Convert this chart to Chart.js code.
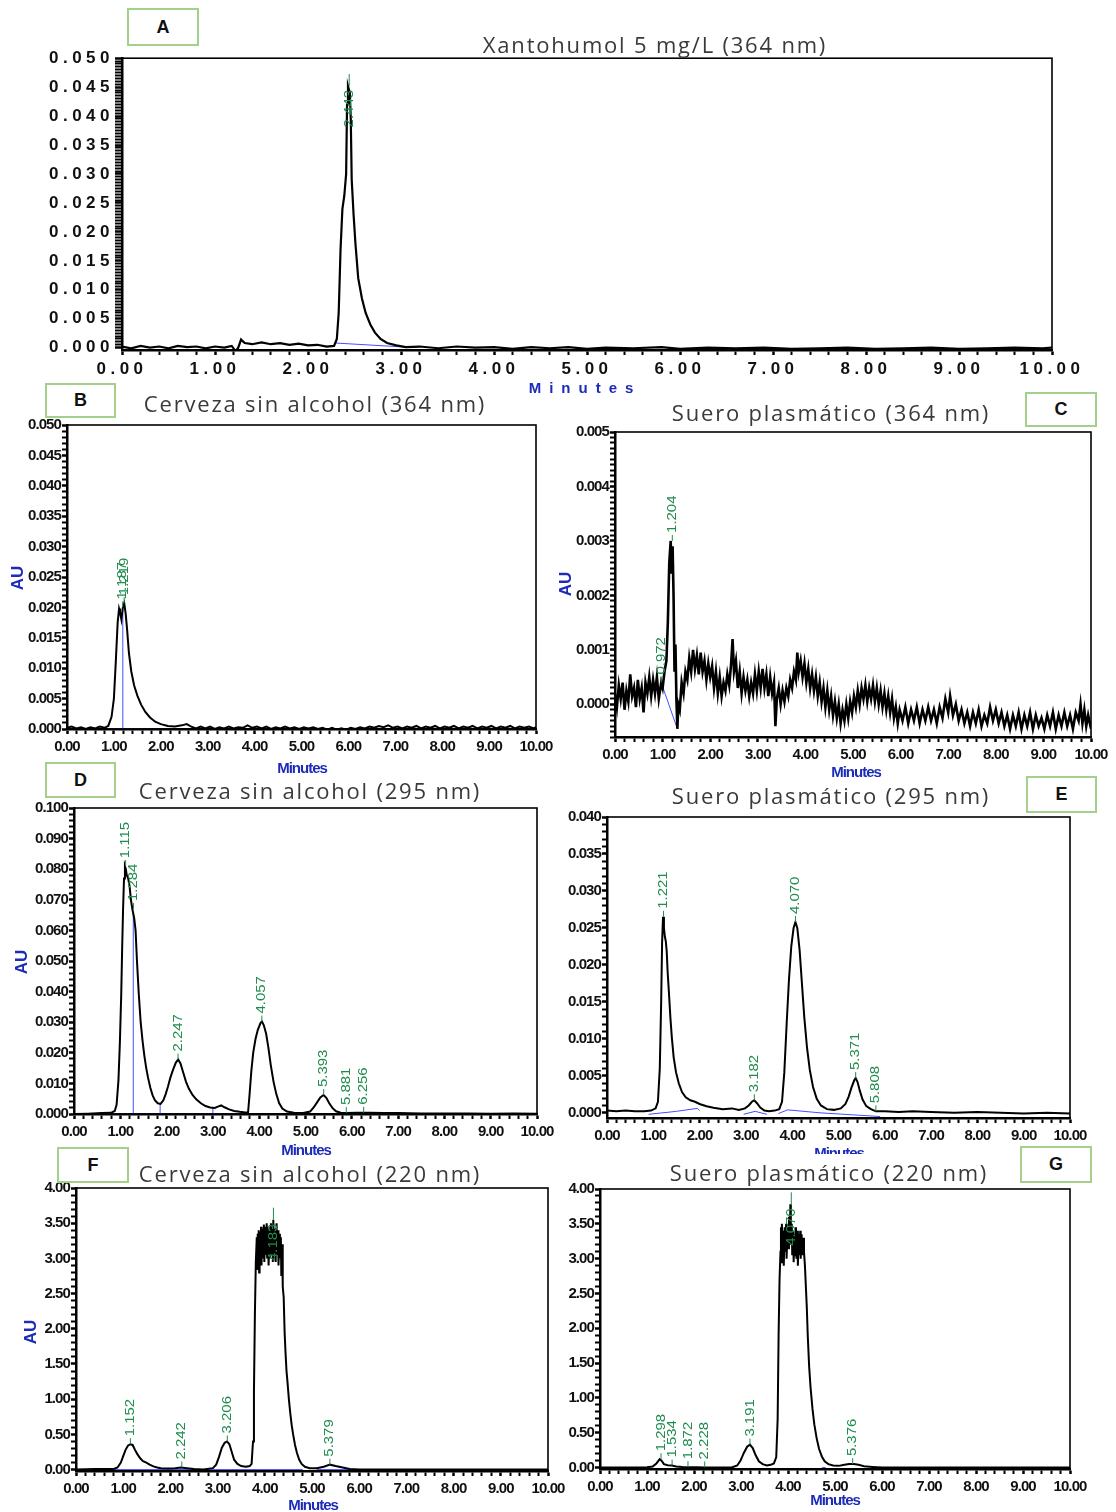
<!DOCTYPE html>
<html>
<head>
<meta charset="utf-8">
<script src="https://cdn.jsdelivr.net/npm/chart.js@4.4.0/dist/chart.umd.min.js"></script>
<style>
  html, body { margin: 0; padding: 0; background: #fff; }
  body { width: 1116px; height: 1512px; position: relative; overflow: hidden; }
  canvas { position: absolute; }
  .title { position: absolute; width: 440px; text-align: center; font-family: "Open Sans", sans-serif; font-size: 22px; letter-spacing: 1.8px; color: #3a3a3a; line-height: 28px; white-space: nowrap; }
  .tag { position: absolute; box-sizing: border-box; border: 2px solid #a3d08a; background: #fff; font: bold 18px "Liberation Sans", Arial, sans-serif; color: #111; text-align: center; }
  .mins { position: absolute; width: 140px; text-align: center; font: bold 15px "Liberation Sans", Arial, sans-serif; color: #1c2bb8; letter-spacing: -1px; line-height: 18px; white-space: nowrap; }
  .au { position: absolute; width: 30px; text-align: center; font: bold 17px "Liberation Sans", Arial, sans-serif; color: #1c2bb8; transform: rotate(-90deg); line-height: 18px; }
</style>
</head>
<body>
<script>
// ---- data (minutes, AU) ----

const traceA = [[0.00,0.0002],[0.10,-0.0001],[0.20,0.0003],[0.30,0.0000],[0.40,0.0002],[0.50,-0.0001],[0.60,0.0003],[0.70,0.0001],[0.80,0.0002],[0.90,-0.0001],[1.00,0.0002],[1.10,0.0000],[1.18,0.0003],[1.22,-0.0006],[1.25,0.0000],[1.28,0.0014],[1.32,0.0008],[1.40,0.0006],[1.50,0.0009],[1.60,0.0006],[1.70,0.0008],[1.80,0.0005],[1.90,0.0007],[2.00,0.0004],[2.10,0.0005],[2.20,0.0002],[2.28,0.0003],[2.31,0.0015],[2.33,0.0060],[2.35,0.0170],[2.37,0.0240],[2.39,0.0262],[2.41,0.0300],[2.42,0.0420],[2.43,0.0452],[2.45,0.0440],[2.46,0.0395],[2.47,0.0290],[2.49,0.0230],[2.51,0.0180],[2.54,0.0120],[2.58,0.0085],[2.62,0.0060],[2.67,0.0040],[2.72,0.0026],[2.78,0.0015],[2.85,0.0008],[2.95,0.0004],[3.05,0.0001],[3.20,0.0002],[3.40,-0.0001],[3.60,0.0002],[3.80,0.0000],[4.00,0.0001],[4.20,-0.0002],[4.40,0.0001],[4.60,-0.0001],[4.80,0.0001],[5.00,-0.0002],[5.20,0.0000],[5.50,-0.0001],[5.80,0.0001],[6.00,-0.0002],[6.30,0.0000],[6.60,-0.0001],[6.90,0.0000],[7.20,-0.0002],[7.50,-0.0001],[7.80,0.0000],[8.10,-0.0002],[8.40,-0.0001],[8.70,0.0000],[9.00,-0.0002],[9.30,-0.0001],[9.60,0.0000],[9.90,-0.0001],[10.00,0.0000]];
const peakTimesA = [2.443];
const peakHeightsA = [0.0452];
const baseA = [[[2.30,0.0008],[3.05,0.0001]]];

const traceB = [[0.00,0.0002],[0.10,0.0004],[0.20,0.0001],[0.30,0.0003],[0.40,0.0000],[0.50,0.0003],[0.60,0.0001],[0.70,0.0004],[0.80,0.0002],[0.88,0.0005],[0.95,0.0020],[1.00,0.0050],[1.04,0.0110],[1.08,0.0175],[1.11,0.0198],[1.13,0.0192],[1.16,0.0180],[1.19,0.0200],[1.22,0.0207],[1.25,0.0190],[1.28,0.0165],[1.32,0.0125],[1.37,0.0095],[1.43,0.0072],[1.50,0.0055],[1.58,0.0040],[1.67,0.0028],[1.77,0.0019],[1.88,0.0012],[2.00,0.0008],[2.15,0.0005],[2.30,0.0004],[2.45,0.0006],[2.55,0.0008],[2.65,0.0004],[2.75,0.0001],[2.85,0.0004],[2.95,0.0001],[3.05,0.0004],[3.15,0.0000],[3.25,0.0003],[3.35,0.0001],[3.45,0.0004],[3.55,0.0001],[3.65,0.0003],[3.75,0.0002],[3.85,0.0006],[3.95,0.0002],[4.05,0.0004],[4.15,0.0001],[4.25,0.0004],[4.35,0.0000],[4.45,0.0003],[4.55,0.0001],[4.65,0.0004],[4.75,0.0001],[4.85,0.0003],[4.95,0.0000],[5.05,0.0003],[5.15,0.0001],[5.25,0.0003],[5.35,0.0000],[5.45,0.0002],[5.55,-0.0001],[5.65,0.0002],[5.75,-0.0001],[5.85,0.0001],[5.95,-0.0001],[6.05,0.0002],[6.15,0.0000],[6.25,0.0003],[6.35,0.0001],[6.45,0.0004],[6.55,0.0002],[6.65,0.0005],[6.75,0.0003],[6.85,0.0006],[6.95,0.0002],[7.05,0.0004],[7.15,0.0001],[7.25,0.0004],[7.35,0.0002],[7.45,0.0005],[7.55,0.0001],[7.65,0.0004],[7.75,0.0002],[7.85,0.0005],[7.95,0.0001],[8.05,0.0004],[8.15,0.0002],[8.25,0.0005],[8.35,0.0001],[8.45,0.0004],[8.55,0.0002],[8.65,0.0005],[8.75,0.0001],[8.85,0.0004],[8.95,0.0002],[9.05,0.0005],[9.15,0.0001],[9.25,0.0004],[9.35,0.0002],[9.45,0.0005],[9.55,0.0001],[9.65,0.0004],[9.75,0.0002],[9.85,0.0004],[9.95,0.0001],[10.00,0.0003]];
const peakTimesB = [1.187, 1.219];
const peakHeightsB = [0.0200, 0.0207];
const baseB = [[[0.85,0.0000],[2.25,0.0000]], [[1.19,0.0000],[1.19,0.0200]]];

const traceC = [[0.00,0.00020],[0.04,-0.00005],[0.08,0.00035],[0.12,0.00010],[0.16,0.00040],[0.20,-0.00010],[0.24,0.00025],[0.28,0.00005],[0.32,0.00055],[0.36,0.00015],[0.40,0.00030],[0.44,-0.00005],[0.48,0.00045],[0.52,0.00010],[0.56,0.00030],[0.60,-0.00015],[0.64,0.00040],[0.68,0.00020],[0.72,0.00050],[0.76,0.00015],[0.80,0.00045],[0.84,0.00020],[0.88,0.00050],[0.92,0.00010],[0.97,0.00040],[1.00,0.00030],[1.04,0.00060],[1.08,0.00080],[1.11,0.00150],[1.14,0.00260],[1.17,0.00300],[1.19,0.00240],[1.21,0.00290],[1.23,0.00200],[1.25,0.00060],[1.27,0.00110],[1.29,0.00010],[1.31,-0.00045],[1.33,0.00000],[1.36,-0.00010],[1.40,0.00040],[1.44,0.00020],[1.48,0.00060],[1.52,0.00045],[1.56,0.00085],[1.60,0.00060],[1.64,0.00100],[1.68,0.00065],[1.72,0.00090],[1.76,0.00055],[1.80,0.00095],[1.84,0.00060],[1.88,0.00080],[1.92,0.00045],[1.96,0.00075],[2.00,0.00050],[2.04,0.00070],[2.08,0.00030],[2.12,0.00060],[2.16,0.00020],[2.20,0.00050],[2.24,0.00015],[2.28,0.00040],[2.32,0.00025],[2.36,0.00055],[2.40,0.00035],[2.44,0.00075],[2.47,0.00120],[2.50,0.00060],[2.54,0.00080],[2.58,0.00030],[2.62,0.00060],[2.66,0.00020],[2.70,0.00050],[2.74,0.00025],[2.78,0.00045],[2.82,0.00015],[2.86,0.00040],[2.90,0.00020],[2.94,0.00055],[2.98,0.00025],[3.02,0.00060],[3.06,0.00030],[3.10,0.00065],[3.14,0.00030],[3.18,0.00055],[3.22,0.00015],[3.26,0.00050],[3.30,0.00020],[3.34,0.00040],[3.37,-0.00040],[3.40,0.00010],[3.44,0.00030],[3.48,0.00000],[3.52,0.00025],[3.56,0.00005],[3.60,0.00030],[3.64,0.00015],[3.68,0.00045],[3.72,0.00030],[3.76,0.00060],[3.80,0.00045],[3.83,0.00095],[3.86,0.00060],[3.90,0.00080],[3.94,0.00050],[3.98,0.00075],[4.02,0.00040],[4.06,0.00065],[4.10,0.00030],[4.14,0.00055],[4.18,0.00025],[4.22,0.00050],[4.26,0.00015],[4.30,0.00040],[4.34,0.00005],[4.38,0.00030],[4.42,-0.00005],[4.46,0.00025],[4.50,-0.00010],[4.54,0.00015],[4.58,-0.00020],[4.62,0.00005],[4.66,-0.00025],[4.70,0.00000],[4.74,-0.00035],[4.78,-0.00010],[4.82,-0.00030],[4.86,0.00000],[4.90,-0.00025],[4.94,0.00005],[4.98,-0.00015],[5.02,0.00015],[5.06,-0.00005],[5.10,0.00025],[5.14,0.00000],[5.18,0.00030],[5.22,0.00010],[5.26,0.00035],[5.30,0.00005],[5.34,0.00030],[5.38,0.00010],[5.42,0.00035],[5.46,0.00005],[5.50,0.00030],[5.54,0.00000],[5.58,0.00025],[5.62,-0.00005],[5.66,0.00020],[5.70,-0.00010],[5.74,0.00015],[5.78,-0.00015],[5.82,0.00010],[5.86,-0.00025],[5.90,-0.00005],[5.94,-0.00035],[5.98,-0.00010],[6.04,-0.00030],[6.10,-0.00005],[6.16,-0.00035],[6.22,-0.00010],[6.28,-0.00030],[6.34,-0.00005],[6.40,-0.00035],[6.46,-0.00010],[6.52,-0.00030],[6.58,-0.00005],[6.64,-0.00030],[6.70,-0.00010],[6.76,-0.00035],[6.82,-0.00005],[6.88,-0.00025],[6.94,0.00010],[7.00,-0.00015],[7.04,0.00015],[7.10,-0.00020],[7.16,0.00000],[7.22,-0.00030],[7.28,-0.00010],[7.34,-0.00035],[7.40,-0.00015],[7.46,-0.00040],[7.52,-0.00015],[7.58,-0.00035],[7.64,-0.00010],[7.70,-0.00040],[7.76,-0.00020],[7.82,-0.00035],[7.88,-0.00005],[7.94,-0.00030],[8.00,-0.00010],[8.06,-0.00035],[8.12,-0.00015],[8.18,-0.00040],[8.24,-0.00020],[8.30,-0.00045],[8.36,-0.00020],[8.42,-0.00040],[8.48,-0.00015],[8.54,-0.00045],[8.60,-0.00020],[8.66,-0.00040],[8.72,-0.00015],[8.78,-0.00045],[8.84,-0.00020],[8.90,-0.00040],[8.96,-0.00025],[9.02,-0.00045],[9.08,-0.00020],[9.14,-0.00040],[9.20,-0.00015],[9.26,-0.00045],[9.32,-0.00020],[9.38,-0.00040],[9.44,-0.00015],[9.50,-0.00040],[9.56,-0.00020],[9.62,-0.00045],[9.68,-0.00015],[9.74,-0.00030],[9.78,0.00000],[9.82,-0.00035],[9.86,-0.00010],[9.90,-0.00040],[9.94,-0.00020],[10.00,-0.00045]];
const peakTimesC = [0.972, 1.204];
const peakHeightsC = [0.0004, 0.0030];
const baseC = [[[0.97,0.0004],[1.31,-0.00045]]];

const traceD = [[0.00,0.0000],[0.30,0.0001],[0.60,0.0003],[0.80,0.0004],[0.88,0.0010],[0.92,0.0030],[0.96,0.0110],[0.99,0.0230],[1.02,0.0390],[1.04,0.0540],[1.06,0.0670],[1.08,0.0770],[1.10,0.0810],[1.12,0.0800],[1.14,0.0780],[1.17,0.0770],[1.20,0.0745],[1.23,0.0700],[1.26,0.0670],[1.30,0.0640],[1.33,0.0600],[1.36,0.0500],[1.40,0.0390],[1.44,0.0300],[1.48,0.0240],[1.52,0.0190],[1.56,0.0150],[1.60,0.0118],[1.65,0.0085],[1.70,0.0060],[1.75,0.0044],[1.81,0.0035],[1.87,0.0033],[1.93,0.0045],[1.98,0.0065],[2.03,0.0090],[2.08,0.0118],[2.14,0.0145],[2.20,0.0168],[2.25,0.0178],[2.30,0.0165],[2.36,0.0135],[2.42,0.0105],[2.48,0.0083],[2.56,0.0062],[2.64,0.0048],[2.74,0.0035],[2.84,0.0026],[2.94,0.0021],[3.04,0.0020],[3.12,0.0025],[3.18,0.0028],[3.25,0.0022],[3.35,0.0015],[3.46,0.0010],[3.58,0.0007],[3.70,0.0005],[3.76,0.0006],[3.79,0.0060],[3.83,0.0140],[3.87,0.0200],[3.92,0.0245],[3.97,0.0275],[4.03,0.0298],[4.06,0.0302],[4.10,0.0290],[4.15,0.0262],[4.20,0.0215],[4.25,0.0160],[4.31,0.0105],[4.37,0.0065],[4.43,0.0036],[4.50,0.0018],[4.60,0.0008],[4.75,0.0004],[4.95,0.0003],[5.10,0.0008],[5.18,0.0022],[5.25,0.0038],[5.32,0.0054],[5.39,0.0062],[5.45,0.0053],[5.51,0.0036],[5.58,0.0020],[5.66,0.0009],[5.76,0.0004],[5.88,0.0003],[6.10,0.0004],[6.40,0.0004],[6.70,0.0003],[7.00,0.0003],[7.50,0.0002],[8.00,0.0002],[8.50,0.0002],[9.00,0.0001],[9.50,0.0002],[10.00,0.0001]];
const peakTimesD = [1.115, 1.284, 2.247, 4.057, 5.393, 5.881, 6.256];
const peakHeightsD = [0.0810, 0.0670, 0.0178, 0.0302, 0.0062, 0.0003, 0.0004];
const baseD = [[[0.60,0.0000],[3.75,0.0000]], [[1.28,0.0000],[1.28,0.0660]], [[1.86,0.0000],[1.86,0.0033]], [[3.00,0.0000],[3.00,0.0020]], [[6.10,0.0003],[6.50,0.0003]]];

const traceE = [[0.00,0.0003],[0.20,0.0002],[0.40,0.0003],[0.60,0.0002],[0.80,0.0002],[0.95,0.0003],[1.05,0.0006],[1.10,0.0015],[1.14,0.0060],[1.17,0.0150],[1.19,0.0230],[1.21,0.0265],[1.23,0.0250],[1.25,0.0238],[1.27,0.0232],[1.29,0.0218],[1.31,0.0190],[1.34,0.0160],[1.37,0.0128],[1.40,0.0102],[1.44,0.0075],[1.49,0.0055],[1.55,0.0040],[1.62,0.0028],[1.70,0.0021],[1.80,0.0017],[1.90,0.0015],[2.00,0.0012],[2.15,0.0009],[2.30,0.0007],[2.50,0.0005],[2.70,0.0006],[2.85,0.0004],[2.98,0.0006],[3.06,0.0010],[3.13,0.0015],[3.18,0.0017],[3.24,0.0013],[3.31,0.0007],[3.40,0.0003],[3.50,0.0002],[3.62,0.0003],[3.72,0.0005],[3.78,0.0015],[3.83,0.0055],[3.88,0.0120],[3.93,0.0180],[3.98,0.0225],[4.03,0.0250],[4.07,0.0258],[4.11,0.0250],[4.16,0.0220],[4.21,0.0175],[4.26,0.0130],[4.32,0.0088],[4.38,0.0058],[4.45,0.0035],[4.53,0.0019],[4.62,0.0010],[4.75,0.0005],[4.90,0.0004],[5.05,0.0006],[5.15,0.0012],[5.22,0.0022],[5.28,0.0034],[5.34,0.0044],[5.37,0.0047],[5.41,0.0042],[5.46,0.0030],[5.52,0.0018],[5.60,0.0009],[5.70,0.0005],[5.81,0.0002],[6.00,0.0002],[6.30,0.0001],[6.60,0.0002],[7.00,0.0001],[7.50,0.0000],[8.00,0.0001],[8.50,0.0000],[9.00,-0.0001],[9.50,0.0000],[10.00,-0.0001]];
const peakTimesE = [1.221, 3.182, 4.070, 5.371, 5.808];
const peakHeightsE = [0.0265, 0.0017, 0.0258, 0.0047, 0.0002];
const baseE = [[[0.90,-0.0002],[1.50,0.0002],[1.95,0.0006],[2.00,0.0003]], [[2.95,-0.0002],[3.20,0.0002],[3.45,-0.0002]], [[3.70,-0.0001],[3.90,0.0004],[4.60,0.0000],[5.90,-0.0005]]];

const traceF = [[0.00,0.00],[0.40,0.01],[0.80,0.01],[0.88,0.03],[0.95,0.10],[1.00,0.19],[1.05,0.28],[1.10,0.34],[1.15,0.36],[1.20,0.35],[1.25,0.28],[1.30,0.22],[1.36,0.16],[1.42,0.12],[1.49,0.10],[1.56,0.07],[1.64,0.045],[1.72,0.03],[1.80,0.02],[1.95,0.015],[2.10,0.02],[2.22,0.03],[2.35,0.02],[2.50,0.01],[2.70,0.00],[2.90,0.02],[2.97,0.07],[3.03,0.18],[3.09,0.31],[3.15,0.38],[3.20,0.40],[3.25,0.36],[3.30,0.25],[3.35,0.14],[3.42,0.08],[3.50,0.05],[3.60,0.04],[3.68,0.05],[3.72,0.08],[3.75,0.40],[3.77,1.10],[3.79,2.20],[3.81,2.95],[3.83,3.30],[3.84,2.85],[3.85,3.35],[3.86,2.90],[3.87,3.40],[3.88,2.80],[3.89,3.38],[3.90,2.95],[3.92,3.45],[3.93,2.90],[3.95,3.42],[3.96,3.00],[3.98,3.48],[3.99,2.95],[4.01,3.45],[4.02,3.05],[4.04,3.50],[4.05,3.00],[4.07,3.45],[4.08,2.90],[4.10,3.40],[4.11,3.00],[4.13,3.50],[4.14,3.05],[4.16,3.45],[4.17,2.95],[4.18,3.55],[4.20,3.00],[4.22,3.42],[4.23,2.95],[4.25,3.50],[4.26,3.05],[4.28,3.40],[4.29,2.90],[4.31,3.35],[4.32,3.00],[4.34,3.30],[4.35,2.75],[4.37,3.20],[4.38,2.60],[4.40,2.45],[4.42,1.95],[4.44,1.65],[4.46,1.40],[4.48,1.25],[4.51,1.00],[4.54,0.80],[4.57,0.63],[4.60,0.50],[4.64,0.35],[4.68,0.24],[4.73,0.14],[4.78,0.08],[4.85,0.04],[4.95,0.02],[5.10,0.02],[5.25,0.04],[5.38,0.07],[5.50,0.05],[5.65,0.03],[5.80,0.01],[6.00,0.00],[7.00,0.00],[8.00,0.00],[9.00,0.00],[10.00,0.00]];
const peakTimesF = [1.152, 2.242, 3.206, 4.183, 5.379];
const peakHeightsF = [0.36, 0.03, 0.40, 3.55, 0.07];
const baseF = [[[0.80,0.00],[4.80,0.00]], [[5.10,0.00],[6.00,0.00]]];

const traceG = [[0.00,0.00],[0.50,0.00],[1.00,0.005],[1.12,0.015],[1.20,0.06],[1.27,0.12],[1.31,0.10],[1.36,0.05],[1.44,0.035],[1.53,0.03],[1.62,0.015],[1.75,0.008],[1.87,0.006],[2.05,0.004],[2.23,0.003],[2.50,0.002],[2.80,0.003],[2.92,0.03],[2.99,0.10],[3.06,0.21],[3.13,0.30],[3.19,0.33],[3.25,0.28],[3.31,0.18],[3.38,0.09],[3.46,0.05],[3.55,0.03],[3.63,0.04],[3.70,0.06],[3.75,0.15],[3.78,0.70],[3.80,1.90],[3.82,2.70],[3.84,3.10],[3.85,3.45],[3.86,2.95],[3.87,3.50],[3.89,3.05],[3.90,3.40],[3.91,2.90],[3.93,3.45],[3.94,3.10],[3.96,3.50],[3.97,3.00],[3.99,3.45],[4.00,3.15],[4.02,3.60],[4.04,3.20],[4.05,3.78],[4.06,3.20],[4.08,3.50],[4.09,3.05],[4.11,3.40],[4.12,2.95],[4.14,3.35],[4.15,3.05],[4.17,3.45],[4.18,3.00],[4.20,3.40],[4.21,2.90],[4.23,3.35],[4.24,3.05],[4.26,3.40],[4.27,3.00],[4.29,3.35],[4.30,3.05],[4.32,3.30],[4.34,3.10],[4.36,2.90],[4.38,2.60],[4.40,2.30],[4.42,1.90],[4.45,1.45],[4.48,1.15],[4.52,0.85],[4.56,0.62],[4.61,0.42],[4.66,0.27],[4.72,0.16],[4.78,0.09],[4.86,0.05],[4.96,0.03],[5.08,0.025],[5.20,0.04],[5.30,0.05],[5.40,0.05],[5.50,0.04],[5.62,0.02],[5.80,0.01],[6.00,0.00],[7.00,0.00],[8.00,0.00],[9.00,0.00],[10.00,0.00]];
const peakTimesG = [1.298, 1.534, 1.872, 2.228, 3.191, 4.070, 5.376];
const peakHeightsG = [0.12, 0.03, 0.006, 0.003, 0.33, 3.78, 0.05];
const baseG = [[[4.72,0.00],[4.80,0.00]]];

// ---- look ----
const GREEN = '#1e8c4c';
const BASE_BLUE = '#4050ff';
const X_AXIS_H = 30;

function isMajor(v, step) {
    const r = v / step;
    return Math.abs(r - Math.round(r)) < 1e-6;
}

// frame round the plot area (top and right edges of the recorder box)
const framePlugin = {
    id: 'frame',
    afterDraw(chart) {
        const a = chart.chartArea;
        const ctx = chart.ctx;
        ctx.save();
        ctx.strokeStyle = '#000';
        ctx.lineWidth = 1.6;
        ctx.strokeRect(a.left, a.top, a.right - a.left, a.bottom - a.top);
        ctx.restore();
    }
};

function spacingPlugin(sp) {
    return {
        id: 'spacing',
        beforeLayout(chart) { chart.ctx.letterSpacing = sp; },
        beforeDraw(chart) { chart.ctx.letterSpacing = sp; }
    };
}

// green retention-time labels, rotated, standing on each peak apex
function peakPlugin(times, heights, inside) {
    return {
        id: 'peaks',
        afterDatasetsDraw(chart) {
            const { ctx, scales: { x, y } } = chart;
            ctx.save();
            ctx.letterSpacing = '0px';
            ctx.fillStyle = GREEN;
            ctx.strokeStyle = GREEN;
            ctx.lineWidth = 1;
            ctx.font = '13px "Liberation Sans", Arial, sans-serif';
            times.forEach((t, i) => {
                const px = x.getPixelForValue(t);
                const py = y.getPixelForValue(heights[i]);
                const down = inside.includes(i);
                ctx.beginPath();
                ctx.moveTo(px, py);
                ctx.lineTo(px, py - (down ? 12 : 6));
                ctx.stroke();
                ctx.save();
                ctx.translate(px, down ? py + 4 : py - 8);
                ctx.rotate(-Math.PI / 2);
                ctx.scale(1.15, 1);
                ctx.textAlign = down ? 'right' : 'left';
                ctx.textBaseline = 'middle';
                ctx.fillText(t.toFixed(3), 0, 0);
                ctx.restore();
            });
            ctx.restore();
        }
    };
}

function makePanel(p) {
    const canvas = document.createElement('canvas');
    canvas.width = p.R - p.L + p.yW + p.pr;
    canvas.height = p.B - p.T + p.pt + X_AXIS_H;
    canvas.style.left = (p.L - p.yW) + 'px';
    canvas.style.top = (p.T - p.pt) + 'px';
    document.body.appendChild(canvas);

    const datasets = [{
        data: p.trace,
        borderColor: '#000',
        borderWidth: p.lw,
        pointRadius: 0,
        tension: 0
    }];
    p.base.forEach(seg => datasets.push({
        data: seg,
        borderColor: BASE_BLUE,
        borderWidth: 1,
        pointRadius: 0,
        tension: 0
    }));

    const tickFont = { family: '"Liberation Sans", Arial, sans-serif', size: p.fontSize, weight: 'bold' };

    new Chart(canvas, {
        type: 'line',
        data: { datasets },
        options: {
            responsive: false,
            animation: false,
            events: [],
            layout: { padding: { top: p.pt, right: p.pr, bottom: 0, left: 0 } },
            plugins: { legend: { display: false }, tooltip: { enabled: false } },
            scales: {
                x: {
                    type: 'linear', min: 0, max: 10,
                    afterFit: s => { s.height = X_AXIS_H; },
                    border: { color: '#000', width: 2.5 },
                    grid: {
                        drawOnChartArea: false, tickLength: 5, tickColor: '#000',
                        tickWidth: c => (c.tick && isMajor(c.tick.value, 1)) ? 2.5 : 2
                    },
                    ticks: {
                        stepSize: 0.2, autoSkip: false, maxRotation: 0, minRotation: 0,
                        padding: 4, color: '#111', font: tickFont,
                        callback: v => isMajor(v, 1) ? v.toFixed(2) : ''
                    }
                },
                y: {
                    type: 'linear', min: p.yMin, max: p.yMax,
                    afterFit: s => { s.width = p.yW; },
                    border: { color: '#000', width: 2.5 },
                    grid: {
                        drawOnChartArea: false, tickLength: p.yTick, tickColor: '#000',
                        tickWidth: c => (c.tick && isMajor(c.tick.value, p.yMajor)) ? 2.5 : 2
                    },
                    ticks: {
                        stepSize: p.yMinor, includeBounds: false, autoSkip: false, padding: 1, color: '#111', font: tickFont,
                        callback: v => isMajor(v, p.yMajor) ? Math.abs(v).toFixed(p.dec) : ''
                    }
                }
            }
        },
        plugins: [framePlugin, spacingPlugin(p.spacing), peakPlugin(p.peakTimes, p.peakHeights, p.inside)]
    });
}

function addText(cls, text, cx, cy, w, h) {
    const d = document.createElement('div');
    d.className = cls;
    d.textContent = text;
    d.style.left = (cx - w / 2) + 'px';
    d.style.top = (cy - h / 2) + 'px';
    document.body.appendChild(d);
    return d;
}

function addTag(letter, x0, y0, x1, y1) {
    const d = document.createElement('div');
    d.className = 'tag';
    d.textContent = letter;
    d.style.left = x0 + 'px';
    d.style.top = y0 + 'px';
    d.style.width = (x1 - x0) + 'px';
    d.style.height = (y1 - y0) + 'px';
    d.style.lineHeight = (y1 - y0 - 4) + 'px';
    document.body.appendChild(d);
}

const panels = [
    { trace: traceA, peakTimes: peakTimesA, peakHeights: peakHeightsA, base: baseA, inside: [0], lw: 2.2,
      L: 122, R: 1052, T: 57, B: 350, yW: 86, pt: 10, pr: 38, yTick: 7,
      yMin: -0.0004, yMax: 0.050, yMinor: 0.0005, yMajor: 0.005, dec: 3, fontSize: 17, spacing: '4.5px' },
    { trace: traceB, peakTimes: peakTimesB, peakHeights: peakHeightsB, base: baseB, inside: [], lw: 2,
      L: 67, R: 536, T: 425, B: 729, yW: 67, pt: 10, pr: 22, yTick: 5,
      yMin: 0, yMax: 0.050, yMinor: 0.001, yMajor: 0.005, dec: 3, fontSize: 15, spacing: '-0.9px' },
    { trace: traceC, peakTimes: peakTimesC, peakHeights: peakHeightsC, base: baseC, inside: [], lw: 2.6,
      L: 615, R: 1091, T: 432, B: 737, yW: 60, pt: 10, pr: 22, yTick: 5,
      yMin: -0.0006, yMax: 0.005, yMinor: 0.0001, yMajor: 0.001, dec: 3, fontSize: 15, spacing: '-0.9px' },
    { trace: traceD, peakTimes: peakTimesD, peakHeights: peakHeightsD, base: baseD, inside: [], lw: 2,
      L: 74, R: 537, T: 808, B: 1114, yW: 74, pt: 10, pr: 22, yTick: 5,
      yMin: 0, yMax: 0.100, yMinor: 0.002, yMajor: 0.010, dec: 3, fontSize: 15, spacing: '-0.9px' },
    { trace: traceE, peakTimes: peakTimesE, peakHeights: peakHeightsE, base: baseE, inside: [], lw: 2,
      L: 607, R: 1070, T: 817, B: 1118, yW: 55, pt: 10, pr: 22, yTick: 5,
      yMin: -0.0007, yMax: 0.040, yMinor: 0.001, yMajor: 0.005, dec: 3, fontSize: 15, spacing: '-0.9px' },
    { trace: traceF, peakTimes: peakTimesF, peakHeights: peakHeightsF, base: baseF, inside: [3], lw: 2,
      L: 76, R: 548, T: 1188, B: 1471, yW: 76, pt: 10, pr: 22, yTick: 5,
      yMin: -0.02, yMax: 4.00, yMinor: 0.1, yMajor: 0.5, dec: 2, fontSize: 15, spacing: '-0.9px' },
    { trace: traceG, peakTimes: peakTimesG, peakHeights: peakHeightsG, base: baseG, inside: [5], lw: 2,
      L: 600, R: 1070, T: 1189, B: 1469, yW: 55, pt: 10, pr: 22, yTick: 5,
      yMin: -0.02, yMax: 4.00, yMinor: 0.1, yMajor: 0.5, dec: 2, fontSize: 15, spacing: '-0.9px' }
];

panels.forEach(makePanel);

// titles
addText('title', 'Xantohumol 5 mg/L (364 nm)', 655, 44, 440, 28);
addText('title', 'Cerveza sin alcohol (364 nm)', 315, 403, 440, 28);
addText('title', 'Suero plasmático (364 nm)', 831, 412, 440, 28);
addText('title', 'Cerveza sin alcohol (295 nm)', 310, 790, 440, 28);
addText('title', 'Suero plasmático (295 nm)', 831, 795, 440, 28);
addText('title', 'Cerveza sin alcohol (220 nm)', 310, 1173, 440, 28);
addText('title', 'Suero plasmático (220 nm)', 829, 1172, 440, 28);

// axis names
const minA = addText('mins', 'Minutes', 585, 388, 140, 18);
minA.style.letterSpacing = '8px';
minA.style.fontSize = '15px';
addText('mins', 'Minutes', 302, 768, 140, 18);
addText('mins', 'Minutes', 856, 772, 140, 18);
addText('mins', 'Minutes', 306, 1150, 140, 18);
const minE = addText('mins', 'Minutes', 839, 1153, 140, 18);
minE.style.clipPath = 'inset(0 0 45% 0)';
addText('mins', 'Minutes', 313, 1505, 140, 18);
addText('mins', 'Minutes', 835, 1500, 140, 18);

addText('au', 'AU', 18, 578, 30, 18);
addText('au', 'AU', 566, 584, 30, 18);
addText('au', 'AU', 22, 962, 30, 18);
addText('au', 'AU', 31, 1332, 30, 18);

// panel letters
addTag('A', 127, 8, 199, 46);
addTag('B', 45, 383, 116, 418);
addTag('C', 1025, 392, 1097, 427);
addTag('D', 45, 762, 116, 798);
addTag('E', 1026, 776, 1097, 813);
addTag('F', 57, 1147, 129, 1183);
addTag('G', 1020, 1146, 1092, 1183);
</script>
</body>
</html>
